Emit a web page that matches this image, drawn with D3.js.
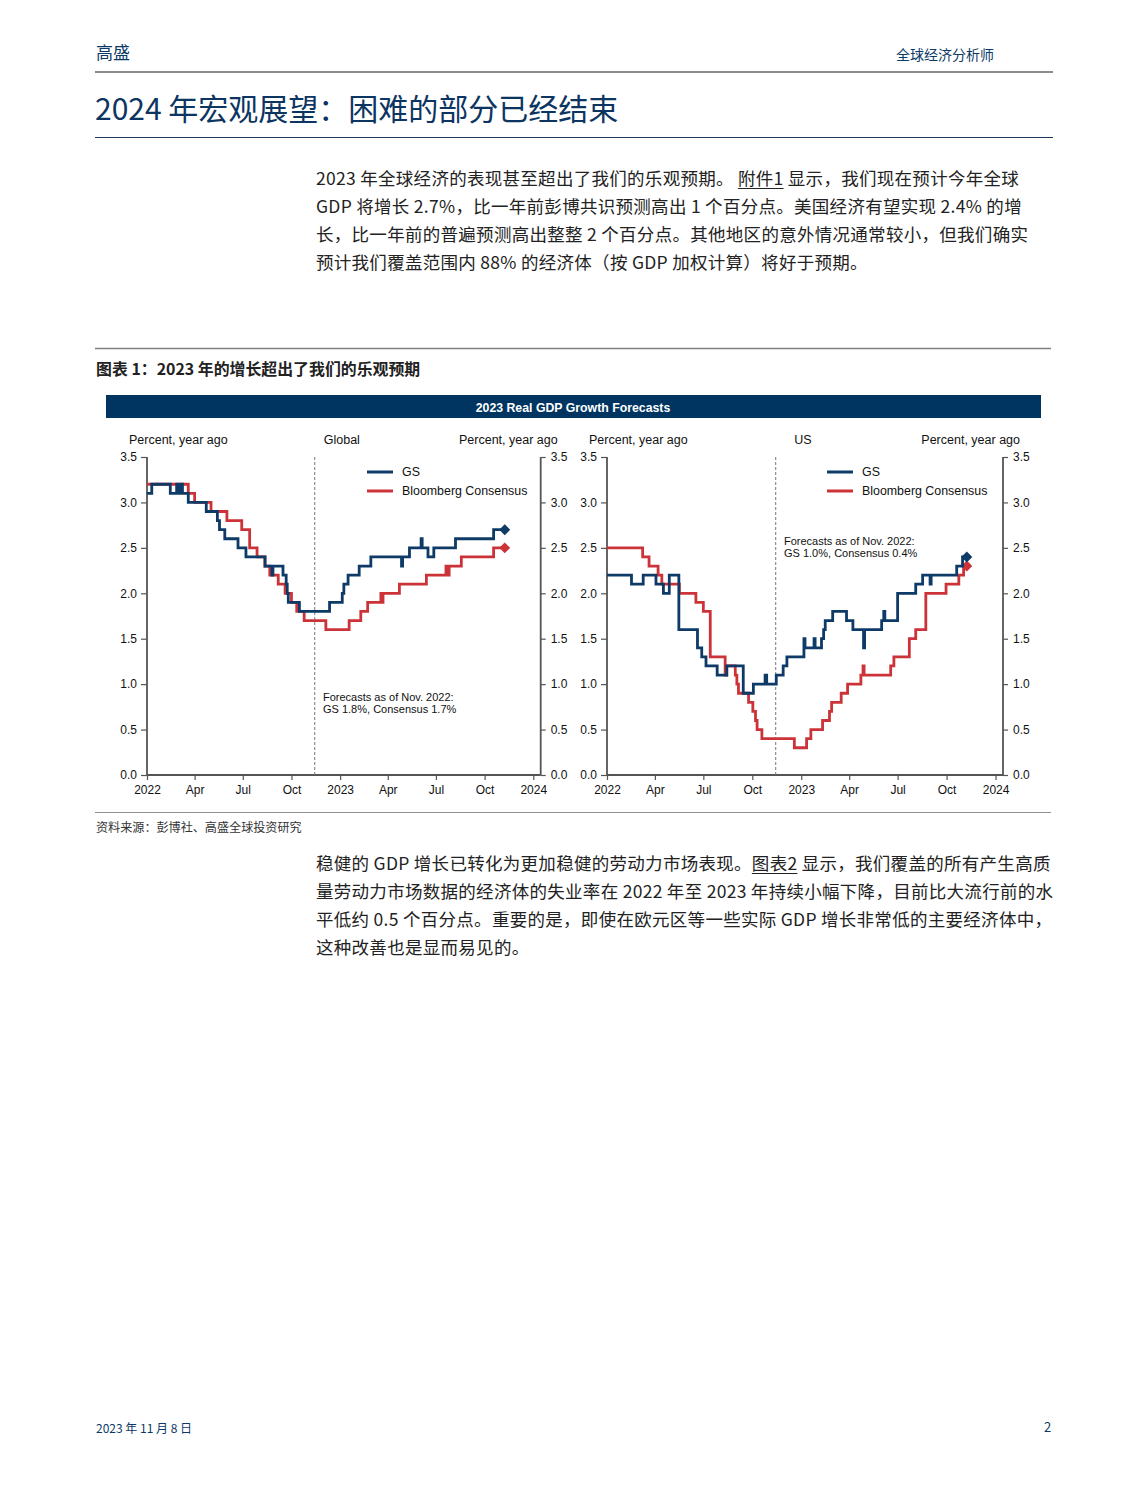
<!DOCTYPE html>
<html>
<head>
<meta charset="utf-8">
<script src="https://cdn.jsdelivr.net/npm/d3@7"></script>
<style>
  html, body { margin: 0; padding: 0; background: #fff; }
  body { width: 1148px; height: 1485px; position: relative; overflow: hidden; font-family: "Noto Sans CJK SC", "Noto Sans", sans-serif; }
  .abs { position: absolute; white-space: nowrap; }
  .para { position: absolute; left: 316px; font-size: 17.5px; letter-spacing: 0.29px; color: #222; line-height: 28px; white-space: nowrap; }
  .para u { text-decoration: underline; text-underline-offset: 3px; }
  svg { position: absolute; left: 0; top: 0; }
</style>
</head>
<body>
<div class="abs" style="left:96px; top:39px; font-size:17px; color:#0c3a66;">高盛</div>
<div class="abs" style="left:896px; top:44px; font-size:14px; color:#0c3a66;">全球经济分析师</div>
<div class="abs" style="left:95px; top:85px; font-size:30px; color:#0c3561;">2024 年宏观展望：困难的部分已经结束</div>

<div class="para" style="top:164px;">
2023 年全球经济的表现甚至超出了我们的乐观预期。 <u>附件1</u> 显示，我们现在预计今年全球<br>
GDP 将增长 2.7%，比一年前彭博共识预测高出 1 个百分点。美国经济有望实现 2.4% 的增<br>
长，比一年前的普遍预测高出整整 2 个百分点。其他地区的意外情况通常较小，但我们确实<br>
预计我们覆盖范围内 88% 的经济体（按 GDP 加权计算）将好于预期。
</div>

<div class="abs" style="left:96px; top:357px; font-size:15.9px; font-weight:bold; color:#222;">图表 1：2023 年的增长超出了我们的乐观预期</div>
<div class="abs" style="left:96px; top:818px; font-size:12.1px; color:#333;">资料来源：彭博社、高盛全球投资研究</div>

<div class="para" style="top:849px;">
稳健的 GDP 增长已转化为更加稳健的劳动力市场表现。<u>图表2</u> 显示，我们覆盖的所有产生高质<br>
量劳动力市场数据的经济体的失业率在 2022 年至 2023 年持续小幅下降，目前比大流行前的水<br>
平低约 0.5 个百分点。重要的是，即使在欧元区等一些实际 GDP 增长非常低的主要经济体中，<br>
这种改善也是显而易见的。
</div>

<div class="abs" style="left:96px; top:1419px; font-size:12px; color:#0c3a66;">2023 年 11 月 8 日</div>
<div class="abs" style="left:1044px; top:1417px; font-size:13px; color:#0c3a66;">2</div>

<svg id="page" width="1148" height="1485"></svg>

<script>
// ---------- DATA ----------
const yTicks = [0.0, 0.5, 1.0, 1.5, 2.0, 2.5, 3.0, 3.5];
const xTickDates = ["2022-01-01","2022-04-01","2022-07-01","2022-10-01","2023-01-01","2023-04-01","2023-07-01","2023-10-01","2024-01-01"];
const xTickLabels = ["2022","Apr","Jul","Oct","2023","Apr","Jul","Oct","2024"];
const seriesNames = ["GS", "Bloomberg Consensus"];
const forecastDate = "2022-11-14";
const latestDate = "2023-11-08";

const globalGS = [
  ["2022-01-01",3.1],["2022-01-10",3.2],["2022-02-14",3.1],["2022-02-26",3.2],["2022-03-03",3.1],
  ["2022-03-05",3.2],["2022-03-09",3.1],["2022-03-20",3.0],["2022-04-23",2.9],["2022-05-14",2.8],
  ["2022-05-18",2.7],["2022-05-28",2.6],["2022-06-22",2.5],["2022-07-07",2.4],["2022-08-12",2.3],
  ["2022-08-25",2.2],["2022-08-27",2.3],["2022-09-15",2.2],["2022-09-21",2.1],["2022-09-23",2.0],
  ["2022-09-25",1.9],["2022-10-16",1.8],["2022-12-12",1.9],["2023-01-05",2.0],["2023-01-08",2.1],
  ["2023-01-16",2.2],["2023-02-06",2.3],["2023-02-28",2.4],["2023-04-27",2.3],["2023-04-29",2.4],
  ["2023-05-12",2.5],["2023-06-03",2.6],["2023-06-05",2.5],["2023-06-16",2.4],["2023-06-27",2.5],
  ["2023-08-07",2.6],["2023-10-18",2.7],["2023-11-08",2.7]
];
const globalBBG = [
  ["2022-01-01",3.2],["2022-03-20",3.1],["2022-04-01",3.0],["2022-05-02",2.9],["2022-06-01",2.8],
  ["2022-06-29",2.7],["2022-07-14",2.5],["2022-07-28",2.4],["2022-08-12",2.3],["2022-08-21",2.2],
  ["2022-09-06",2.1],["2022-09-19",2.0],["2022-10-01",1.9],["2022-10-11",1.8],["2022-10-25",1.7],
  ["2022-12-05",1.6],["2023-01-18",1.7],["2023-02-09",1.8],["2023-02-22",1.9],["2023-03-19",2.0],
  ["2023-03-21",1.9],["2023-03-23",2.0],["2023-04-23",2.1],["2023-06-13",2.2],["2023-07-20",2.3],
  ["2023-07-23",2.2],["2023-07-26",2.3],["2023-08-18",2.4],["2023-10-18",2.5],["2023-11-08",2.5]
];
const usGS = [
  ["2022-01-01",2.2],["2022-02-16",2.1],["2022-03-10",2.2],["2022-04-03",2.1],["2022-04-17",2.0],
  ["2022-04-28",2.2],["2022-05-16",1.6],["2022-06-20",1.4],["2022-06-28",1.3],["2022-07-06",1.2],
  ["2022-07-27",1.1],["2022-08-14",1.2],["2022-09-14",0.9],["2022-10-03",1.0],["2022-10-25",1.1],
  ["2022-10-28",1.0],["2022-11-15",1.1],["2022-11-28",1.2],["2022-12-05",1.3],["2023-01-06",1.5],
  ["2023-01-08",1.4],["2023-01-25",1.5],["2023-01-27",1.4],["2023-02-08",1.5],["2023-02-12",1.6],
  ["2023-02-15",1.7],["2023-03-01",1.8],["2023-03-27",1.7],["2023-04-08",1.6],["2023-04-28",1.4],
  ["2023-04-30",1.6],["2023-06-01",1.7],["2023-06-05",1.8],["2023-06-07",1.7],["2023-07-01",2.0],
  ["2023-08-04",2.1],["2023-08-17",2.2],["2023-08-31",2.1],["2023-09-02",2.2],["2023-10-20",2.3],
  ["2023-10-31",2.4],["2023-11-08",2.4]
];
const usBBG = [
  ["2022-01-01",2.5],["2022-03-09",2.4],["2022-03-21",2.3],["2022-04-07",2.2],["2022-04-14",2.1],
  ["2022-05-17",2.0],["2022-06-17",1.9],["2022-07-01",1.8],["2022-07-14",1.3],["2022-08-11",1.1],
  ["2022-08-14",1.2],["2022-08-30",1.1],["2022-09-02",1.0],["2022-09-05",0.9],["2022-09-24",0.8],
  ["2022-10-02",0.7],["2022-10-07",0.6],["2022-10-10",0.5],["2022-10-19",0.4],["2022-12-19",0.3],
  ["2023-01-11",0.4],["2023-01-19",0.5],["2023-02-10",0.6],["2023-02-23",0.7],["2023-02-27",0.8],
  ["2023-03-17",0.9],["2023-03-29",1.0],["2023-04-23",1.1],["2023-04-27",1.2],["2023-04-29",1.1],
  ["2023-06-18",1.2],["2023-06-24",1.3],["2023-07-23",1.5],["2023-08-04",1.6],["2023-08-23",2.0],
  ["2023-09-30",2.1],["2023-10-24",2.2],["2023-11-02",2.3],["2023-11-08",2.3]
];

const panels = [
  { title: "Global", gs: globalGS, bbg: globalBBG, x0: 147, x1: 540.7,
    note: ["Forecasts as of Nov. 2022:", "GS 1.8%, Consensus 1.7%"], noteX: 323, noteY: 701, legX: 367 },
  { title: "US", gs: usGS, bbg: usBBG, x0: 607, x1: 1003,
    note: ["Forecasts as of Nov. 2022:", "GS 1.0%, Consensus 0.4%"], noteX: 784, noteY: 545, legX: 827 }
];

// ---------- DRAW ----------
const BLUE = "#0d3a66", RED = "#cc3338", NAVY = "#003461", AX = "#555";
const parse = d3.timeParse("%Y-%m-%d");
const svg = d3.select("#page");
const font = "'Liberation Sans', Arial, sans-serif";

// page rules
svg.append("line").attr("x1",95).attr("x2",1053).attr("y1",72).attr("y2",72).attr("stroke","#8c8c8c").attr("stroke-width",2);
svg.append("line").attr("x1",95).attr("x2",1053).attr("y1",137.5).attr("y2",137.5).attr("stroke","#1c3a5e").attr("stroke-width",1);
svg.append("line").attr("x1",95).attr("x2",1051).attr("y1",348.5).attr("y2",348.5).attr("stroke","#808080").attr("stroke-width",1.5);
svg.append("line").attr("x1",95).attr("x2",1051).attr("y1",812.5).attr("y2",812.5).attr("stroke","#909090").attr("stroke-width",1);

// title bar
svg.append("rect").attr("x",106).attr("y",395).attr("width",935).attr("height",23).attr("fill",NAVY);
svg.append("text").attr("x",573).attr("y",411.5).attr("text-anchor","middle").attr("fill","#fff")
  .attr("font-family",font).attr("font-size",12.3).attr("font-weight","bold").text("2023 Real GDP Growth Forecasts");

const y = d3.scaleLinear().domain([0, 3.5]).range([775, 457]);
const domain = [parse("2022-01-01"), parse("2024-01-15")];

panels.forEach(p => {
  const x = d3.scaleTime().domain(domain).range([p.x0, p.x1]);
  const g = svg.append("g").attr("font-family", font);

  // header labels
  g.append("text").attr("x", p.x0 - 18).attr("y", 444).attr("font-size",12.5).attr("fill","#111").text("Percent, year ago");
  g.append("text").attr("x", (p.x0 + p.x1)/2 - 2).attr("y", 444).attr("font-size",12.5).attr("fill","#111").attr("text-anchor","middle").text(p.title);
  g.append("text").attr("x", p.x1 + 17).attr("y", 444).attr("font-size",12.5).attr("fill","#111").attr("text-anchor","end").text("Percent, year ago");

  // axes
  const yl = g.append("g").attr("transform",`translate(${p.x0},0)`)
    .call(d3.axisLeft(y).tickValues(yTicks).tickFormat(d3.format(".1f")).tickSize(6).tickPadding(4));
  const yr = g.append("g").attr("transform",`translate(${p.x1},0)`)
    .call(d3.axisRight(y).tickValues(yTicks).tickFormat(d3.format(".1f")).tickSize(5).tickPadding(5));
  const xa = g.append("g").attr("transform",`translate(0,775)`)
    .call(d3.axisBottom(x).tickValues(xTickDates.map(parse)).tickFormat((d,i) => xTickLabels[i]).tickSize(5).tickPadding(5));
  [yl, yr, xa].forEach(a => {
    a.select(".domain").attr("stroke", AX).attr("stroke-width", 1.8);
    a.selectAll(".tick line").attr("stroke", AX).attr("stroke-width", 1.2);
    a.selectAll("text").attr("font-size", 12).attr("fill", "#111").attr("font-family", font);
  });
  yl.select(".domain").attr("d", `M0,775V457`);
  yr.select(".domain").attr("d", `M0,775V457`);
  xa.select(".domain").attr("d", `M${p.x0},0H${p.x1}`);

  // forecast-date dashed line
  g.append("line").attr("x1", x(parse(forecastDate))).attr("x2", x(parse(forecastDate)))
    .attr("y1", 457).attr("y2", 775).attr("stroke","#777").attr("stroke-width",1).attr("stroke-dasharray","3,2");

  // lines
  const line = d3.line().x(d => x(parse(d[0]))).y(d => y(d[1])).curve(d3.curveStepAfter);
  [[p.bbg, RED], [p.gs, BLUE]].forEach(([data, col]) => {
    g.append("path").attr("d", line(data)).attr("fill","none").attr("stroke", col).attr("stroke-width", 2.8).attr("stroke-linejoin","miter");
    const last = data[data.length - 1];
    g.append("path").attr("d", d3.symbol().type(d3.symbolSquare).size(60)())
      .attr("transform", `translate(${x(parse(latestDate))},${y(last[1])}) rotate(45)`).attr("fill", col);
  });

  // legend
  [[BLUE, seriesNames[0], 472], [RED, seriesNames[1], 491]].forEach(([col, name, ly]) => {
    g.append("line").attr("x1", p.legX).attr("x2", p.legX + 26).attr("y1", ly).attr("y2", ly).attr("stroke", col).attr("stroke-width", 3);
    g.append("text").attr("x", p.legX + 35).attr("y", ly + 4).attr("font-size", 12.4).attr("fill","#111").text(name);
  });

  // annotation
  p.note.forEach((t, i) => g.append("text").attr("x", p.noteX).attr("y", p.noteY + i*12).attr("font-size", 11).attr("fill","#111").text(t));
});
</script>
</body>
</html>
